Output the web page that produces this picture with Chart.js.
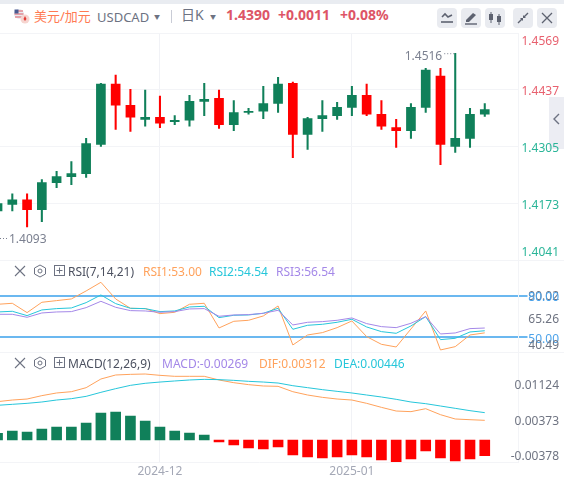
<!DOCTYPE html>
<html lang="zh">
<head>
    <meta charset="UTF-8">
    <title>USDCAD 日K</title>
    <script src="https://cdn.jsdelivr.net/npm/chart.js"></script>
    <style>
        html, body { margin: 0; padding: 0; background: #fff; overflow: hidden; }
        body { width: 564px; height: 483px; position: relative; font-family: "Noto Sans", "Noto Sans CJK SC", sans-serif; }
        canvas { position: absolute; left: 0; }
        .t { position: absolute; white-space: nowrap; line-height: 16px; }
        .btn { position: absolute; top: 8px; width: 20px; height: 20px; border-radius: 4px; background: #e9ebf0; }
        .btn svg, .ic { position: absolute; display: block; }
    </style>
</head>
<body>
<div style="position:absolute;left:0;top:0;width:564px;height:4px;background:#e9ecf1"></div>

<svg class="ic" style="left:13px;top:8px" width="18" height="16" viewBox="0 0 18 16">
    <circle cx="6" cy="6" r="5" fill="#e8eaf0"/>
    <path d="M2 3h8M1.500 6h9M2 9h8" stroke="#e05a62" stroke-width="1.200"/>
    <path d="M1.500 1.500h4v4h-4z" fill="#4a5a90"/>
    <circle cx="12" cy="11" r="4.500" fill="#f6d5d0"/>
    <path d="M12 8l1.500 3-1.500 2-1.500-2z" fill="#e23b36"/>
</svg>
<div class="t" style="left:34px;top:8px;font-size:13px;color:#ff7a52">美元/加元</div>
<div class="t" style="left:97px;top:9px;font-size:13px;color:#6d7282">USDCAD</div>
<div class="t" style="left:154px;top:9px;font-size:6px;color:#6d7282">▼</div>
<div style="position:absolute;left:171px;top:10px;width:1px;height:13px;background:#c9ccd6"></div>
<div class="t" style="left:181px;top:7px;font-size:14px;color:#6d7282">日K</div>
<div class="t" style="left:210px;top:9px;font-size:6px;color:#6d7282">▼</div>
<div class="t" style="left:226px;top:7px;font-size:14px;font-weight:700;color:#dd5566">1.4390</div>
<div class="t" style="left:278px;top:7px;font-size:14px;font-weight:700;color:#dd5566">+0.0011</div>
<div class="t" style="left:340px;top:7px;font-size:14px;font-weight:700;color:#dd5566">+0.08%</div>

<div class="btn" style="left:437px">
    <svg width="20" height="20" viewBox="0 0 20 20"><path d="M5 9l3-3 3 3 4-2" fill="none" stroke="#5d6270" stroke-width="1.600"/><path d="M4 14h12" stroke="#5d6270" stroke-width="1.600"/></svg>
</div>
<div class="btn" style="left:461px">
    <svg width="20" height="20" viewBox="0 0 20 20"><path d="M5 12l7-7 3 2-7 7H5z" fill="#5d6270"/><path d="M4 16h12" stroke="#5d6270" stroke-width="1.400"/></svg>
</div>
<div class="btn" style="left:485px">
    <svg width="20" height="20" viewBox="0 0 20 20"><path d="M6 4v11M14 6v11" stroke="#5d6270"/><rect x="4" y="6" width="4" height="6" fill="#5d6270"/><rect x="12" y="8" width="4" height="6" fill="#5d6270"/></svg>
</div>
<div class="btn" style="left:513px">
    <svg width="20" height="20" viewBox="0 0 20 20"><path d="M5 15l4-4M15 5l-4 4" stroke="#5d6270" stroke-width="1.400"/><path d="M7 10h3v3zM13 10h-3V7z" fill="#5d6270"/></svg>
</div>
<div class="btn" style="left:537px">
    <svg width="20" height="20" viewBox="0 0 20 20"><path d="M5 5l10 10M15 5L5 15" stroke="#5d6270" stroke-width="1.300"/></svg>
</div>

<div style="position:absolute;left:549px;top:97px;width:15px;height:52px;background:#ecedf3"></div>
<svg class="ic" style="left:552px;top:112px" width="10" height="14" viewBox="0 0 10 14"><path d="M7 2L2 7l5 5" fill="none" stroke="#6d7282" stroke-width="1.400"/></svg>

<canvas id="priceChart" width="564" height="237" style="top:28px"></canvas>
<canvas id="rsiChart" width="564" height="102" style="top:255px"></canvas>
<canvas id="macdChart" width="564" height="136" style="top:347px"></canvas>

<svg class="ic" style="left:13px;top:264px" width="62" height="14" viewBox="0 0 62 14">
    <path d="M2 2l10 10M12 2L2 12" stroke="#6d7282" stroke-width="1.100"/>
    <path d="M27 1l5.500 3v6L27 13l-5.500-3V4z" fill="none" stroke="#6d7282"/><circle cx="27" cy="7" r="2" fill="none" stroke="#6d7282"/>
    <rect x="41.500" y="1.500" width="10" height="10" fill="none" stroke="#6d7282"/><path d="M46.500 3.500v6M43.500 6.500h6" stroke="#6d7282"/>
</svg>
<div class="t" style="left:68px;top:264px;font-size:12px;color:#4c5160">RSI(7,14,21)</div>
<div class="t" style="left:143px;top:264px;font-size:12px;color:#ffa25c">RSI1:53.00</div>
<div class="t" style="left:209px;top:264px;font-size:12px;color:#26c6da">RSI2:54.54</div>
<div class="t" style="left:276px;top:264px;font-size:12px;color:#a488e8">RSI3:56.54</div>

<svg class="ic" style="left:13px;top:356px" width="62" height="14" viewBox="0 0 62 14">
    <path d="M2 2l10 10M12 2L2 12" stroke="#6d7282" stroke-width="1.100"/>
    <path d="M27 1l5.500 3v6L27 13l-5.500-3V4z" fill="none" stroke="#6d7282"/><circle cx="27" cy="7" r="2" fill="none" stroke="#6d7282"/>
    <rect x="41.500" y="1.500" width="10" height="10" fill="none" stroke="#6d7282"/><path d="M46.500 3.500v6M43.500 6.500h6" stroke="#6d7282"/>
</svg>
<div class="t" style="left:68px;top:356px;font-size:12px;color:#4c5160">MACD(12,26,9)</div>
<div class="t" style="left:162px;top:356px;font-size:12px;color:#a488e8">MACD:-0.00269</div>
<div class="t" style="left:259px;top:356px;font-size:12px;color:#ffa25c">DIF:0.00312</div>
<div class="t" style="left:334px;top:356px;font-size:12px;color:#26c6da">DEA:0.00446</div>

<script>
    const openVals = [1.4155, 1.4170, 1.4181, 1.4158, 1.4221, 1.4235, 1.4242, 1.4310, 1.4450, 1.4401, 1.4368, 1.4373, 1.4363, 1.4366, 1.4410, 1.4417, 1.4356, 1.4384, 1.4387, 1.4405, 1.4452, 1.4333, 1.4370, 1.4377, 1.4396, 1.4424, 1.4380, 1.4349, 1.4342, 1.4396, 1.4469, 1.4305, 1.4324, 1.4380];
    const highVals = [1.4175, 1.4195, 1.4195, 1.4228, 1.4247, 1.4270, 1.4324, 1.4452, 1.4471, 1.4438, 1.4436, 1.4422, 1.4377, 1.4424, 1.4452, 1.4436, 1.4412, 1.4394, 1.4445, 1.4466, 1.4455, 1.4373, 1.4412, 1.4408, 1.4445, 1.4450, 1.4412, 1.4368, 1.4405, 1.4487, 1.4487, 1.4522, 1.4394, 1.4405];
    const lowVals = [1.4155, 1.4155, 1.4118, 1.4130, 1.4209, 1.4216, 1.4233, 1.4305, 1.4345, 1.4340, 1.4352, 1.4349, 1.4356, 1.4352, 1.4377, 1.4347, 1.4342, 1.4380, 1.4370, 1.4384, 1.4279, 1.4298, 1.4340, 1.4368, 1.4377, 1.4377, 1.4345, 1.4303, 1.4324, 1.4384, 1.4263, 1.4291, 1.4303, 1.4375];
    const closeVals = [1.4172, 1.4181, 1.4158, 1.4221, 1.4235, 1.4242, 1.4312, 1.4450, 1.4401, 1.4373, 1.4373, 1.4359, 1.4366, 1.4410, 1.4415, 1.4356, 1.4384, 1.4387, 1.4405, 1.4450, 1.4333, 1.4370, 1.4377, 1.4396, 1.4424, 1.4380, 1.4352, 1.4342, 1.4396, 1.4483, 1.4310, 1.4324, 1.4380, 1.4391];

    const rsi1 = [73.90, 74.63, 67.80, 75.37, 76.59, 77.80, 83.66, 90.00, 77.80, 70.98, 70.73, 67.07, 68.05, 73.90, 74.63, 56.59, 61.46, 62.20, 65.37, 72.68, 44.15, 51.46, 53.17, 56.83, 61.71, 50.24, 44.63, 42.68, 55.85, 69.02, 40.49, 42.93, 51.46, 53.00];
    const rsi2 = [68.29, 68.78, 65.61, 69.76, 70.73, 71.22, 75.12, 80.73, 74.39, 70.98, 70.73, 68.54, 69.02, 71.95, 72.44, 64.15, 65.85, 66.10, 67.32, 70.98, 55.61, 58.54, 59.27, 60.73, 62.93, 57.32, 53.90, 52.68, 58.05, 64.88, 48.05, 49.02, 53.66, 54.54];
    const rsi3 = [66.59, 66.59, 64.39, 67.56, 68.29, 68.54, 71.46, 76.10, 71.71, 69.27, 69.02, 68.05, 68.54, 70.49, 70.73, 65.12, 66.10, 66.34, 67.32, 69.51, 58.78, 60.73, 61.22, 62.20, 63.90, 59.76, 57.56, 56.83, 60.00, 64.88, 52.20, 52.93, 56.10, 56.54];

    const macdHist = [0.00115, 0.00155, 0.00137, 0.00189, 0.00223, 0.00223, 0.00292, 0.00464, 0.00481, 0.00412, 0.00326, 0.00223, 0.00155, 0.00120, 0.00086, -0.00034, -0.00086, -0.00137, -0.00155, -0.00120, -0.00258, -0.00292, -0.00309, -0.00292, -0.00258, -0.00292, -0.00344, -0.00378, -0.00326, -0.00189, -0.00309, -0.00361, -0.00326, -0.00269];
    const difVals = [0.00659, 0.00687, 0.00704, 0.00762, 0.00808, 0.00830, 0.00899, 0.01048, 0.01117, 0.01128, 0.01134, 0.01111, 0.01094, 0.01094, 0.01094, 0.01031, 0.00985, 0.00951, 0.00928, 0.00922, 0.00830, 0.00773, 0.00733, 0.00704, 0.00687, 0.00630, 0.00561, 0.00498, 0.00487, 0.00538, 0.00435, 0.00361, 0.00349, 0.00338];
    const deaVals = [0.00596, 0.00613, 0.00630, 0.00653, 0.00687, 0.00710, 0.00750, 0.00819, 0.00882, 0.00939, 0.00974, 0.00996, 0.01014, 0.01031, 0.01042, 0.01037, 0.01025, 0.01008, 0.00996, 0.00979, 0.00933, 0.00899, 0.00865, 0.00836, 0.00808, 0.00773, 0.00739, 0.00699, 0.00653, 0.00624, 0.00584, 0.00544, 0.00504, 0.00470];

    const priceTicks = [1.4569, 1.4437, 1.4305, 1.4173, 1.4041];
    const rsiTicks = [90.02, 80, 65.26, 50, 40.49];
    const rsiLevels = [80, 50];
    const macdTicks = [0.01124, 0.00373, -0.00378];
    const monthIndex = [11, 24];
    const monthLabels = ['2024-12', '2025-01'];
    const lastPrice = 1.4390;
    const highMark = { index: 31, value: 1.4522, text: '1.4516' };
    const lowMark = { index: 0, value: 1.4093, text: '1.4093' };

    const GREEN = '#10805a';
    const RED = '#ff0000';
    const GRID = '#f3f4f7';
    const FONT = { family: '"Noto Sans", sans-serif', size: 12 };
    const X_MIN = 0.166;
    const X_MAX = 35.285;

    Chart.defaults.font.family = FONT.family;
    Chart.defaults.font.size = FONT.size;
    Chart.defaults.animation = false;

    // right-aligns the axis labels and moves the outer ones inside the panel
    const labelShift = {
        id: 'labelShift',
        beforeDraw(chart, args, opts) {
            chart.scales.y.getLabelItems().forEach((item, i) => {
                item.options.textAlign = 'right';
                item.options.translation[0] = 559;
                item.options.translation[1] += opts.shifts[i] || 0;
            });
        }
    };

    const extremeMarks = {
        id: 'extremeMarks',
        afterDatasetsDraw(chart) {
            const { ctx, scales: { x, y } } = chart;
            const hx = x.getPixelForValue(highMark.index);
            const hy = y.getPixelForValue(highMark.value);
            const ly = y.getPixelForValue(lowMark.value);
            ctx.save();
            ctx.font = '12px ' + FONT.family;
            ctx.fillStyle = '#7b8090';
            ctx.textBaseline = 'middle';
            ctx.textAlign = 'right';
            ctx.fillText(highMark.text, hx - 13, hy + 3);
            ctx.textAlign = 'left';
            ctx.fillText(lowMark.text, 9, ly + 2);
            ctx.strokeStyle = '#7b8090';
            ctx.setLineDash([1, 2]);
            ctx.beginPath();
            ctx.moveTo(hx - 11, hy + 0.5);
            ctx.lineTo(hx, hy + 0.5);
            ctx.moveTo(0, Math.round(ly) + 0.5);
            ctx.lineTo(8, Math.round(ly) + 0.5);
            ctx.stroke();
            ctx.restore();
        }
    };

    function points(values) {
        return values.map((v, i) => ({ x: i, y: v }));
    }

    function lineSet(values, color) {
        return { type: 'line', data: points(values), borderColor: color, borderWidth: 1, pointRadius: 0, tension: 0 };
    }

    function xAxis(showLabels) {
        return {
            type: 'linear',
            min: X_MIN,
            max: X_MAX,
            offset: false,
            afterBuildTicks: scale => { scale.ticks = monthIndex.map(v => ({ value: v })); },
            afterFit: scale => { scale.height = showLabels ? 21 : 0; },
            grid: { color: '#f1f2f6', drawTicks: false, offset: false },
            border: { display: showLabels, color: GRID },
            ticks: {
                display: showLabels,
                autoSkip: false,
                maxRotation: 0,
                padding: 2,
                color: '#a4a8b6',
                callback: v => monthLabels[monthIndex.indexOf(v)]
            }
        };
    }

    function yAxis(min, max, values, format, color, gridOpts) {
        return {
            type: 'linear',
            position: 'right',
            min: min,
            max: max,
            afterBuildTicks: scale => { scale.ticks = values.map(v => ({ value: v })); },
            afterFit: scale => {
                scale.width = 45.5;
                scale.paddingTop = 0;
                scale.paddingBottom = 0;
            },
            grid: Object.assign({ color: GRID, drawTicks: false }, gridOpts),
            border: { color: GRID },
            // mirror only to stop the labels being clipped at the axis edge
            ticks: { autoSkip: false, mirror: true, padding: 4, color: color, callback: format }
        };
    }

    function baseOptions(scales, shifts, padBottom) {
        return {
            responsive: false,
            layout: { padding: { top: 5, bottom: padBottom, left: 0, right: 0 } },
            scales: scales,
            plugins: { legend: { display: false }, tooltip: { enabled: false }, labelShift: { shifts: shifts } }
        };
    }

    new Chart(document.getElementById('priceChart'), {
        type: 'bar',
        data: {
            datasets: [
                {
                    data: points(openVals.map((o, i) => [lowVals[i], highVals[i]])),
                    backgroundColor: openVals.map((o, i) => closeVals[i] >= o ? GREEN : RED),
                    barThickness: 1.4,
                    grouped: false
                },
                {
                    data: points(openVals.map((o, i) => [o, closeVals[i]])),
                    backgroundColor: openVals.map((o, i) => closeVals[i] >= o ? GREEN : RED),
                    barThickness: 9,
                    grouped: false
                }
            ]
        },
        options: baseOptions({
            x: xAxis(false),
            y: yAxis(1.4041, 1.4569, priceTicks, v => v.toFixed(4), c => c.tick.value > lastPrice ? '#e8616f' : '#2ab598')
        }, [9, 2, 2, 2, -7], 5),
        plugins: [labelShift, extremeMarks]
    });

    new Chart(document.getElementById('rsiChart'), {
        type: 'line',
        data: {
            datasets: [lineSet(rsi3, '#a488e8'), lineSet(rsi2, '#26c6da'), lineSet(rsi1, '#ffa25c')]
        },
        options: baseOptions({
            x: xAxis(false),
            y: yAxis(39, 106.3, rsiTicks, v => v.toFixed(2),
                c => rsiLevels.includes(c.tick.value) ? '#4da3ea' : '#6f7482',
                {
                    drawTicks: true,
                    tickLength: 9,
                    color: c => rsiLevels.includes(c.tick.value) ? '#6bb8f0' : 'transparent',
                    tickColor: c => rsiLevels.includes(c.tick.value) ? '#6bb8f0' : 'transparent',
                    lineWidth: 2,
                    tickWidth: 2
                })
        }, [14, 2, 3, 3, -4], 5),
        plugins: [labelShift, {
            // panel frame lines
            id: 'frame',
            beforeDatasetsDraw(chart) {
                const { ctx, chartArea: a } = chart;
                ctx.save();
                ctx.strokeStyle = GRID;
                ctx.beginPath();
                ctx.moveTo(a.left, a.top + 0.5);
                ctx.lineTo(564, a.top + 0.5);
                ctx.moveTo(a.left, a.bottom + 0.5);
                ctx.lineTo(564, a.bottom + 0.5);
                ctx.stroke();
                ctx.restore();
            }
        }]
    });

    new Chart(document.getElementById('macdChart'), {
        type: 'bar',
        data: {
            datasets: [
                {
                    data: points(macdHist),
                    backgroundColor: macdHist.map(v => v >= 0 ? GREEN : RED),
                    barThickness: 10,
                    grouped: false
                },
                lineSet(deaVals, '#26c6da'),
                lineSet(difVals, '#ffa25c')
            ]
        },
        options: baseOptions({
            x: xAxis(true),
            y: yAxis(-0.00378, 0.01512, macdTicks, v => v.toFixed(5), '#6f7482', { color: 'transparent' })
        }, [11, 3, -5], 0),
        plugins: [labelShift]
    });
</script>
</body>
</html>
